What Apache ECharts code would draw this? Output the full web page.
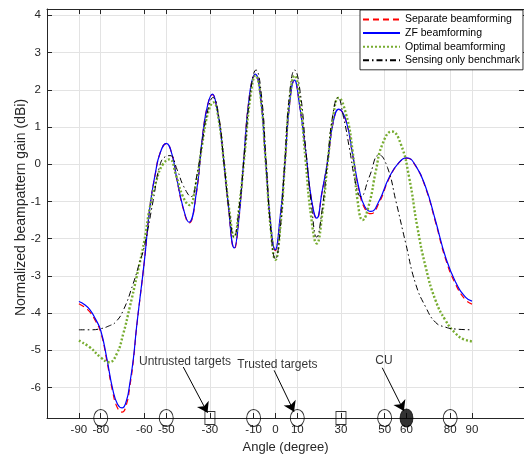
<!DOCTYPE html>
<html>
<head>
<meta charset="utf-8">
<script src="https://cdn.jsdelivr.net/npm/echarts@6/dist/echarts.min.js"></script>
<style>
html,body{margin:0;padding:0;background:#fff;}
#chart{width:524px;height:460px;}
</style>
</head>
<body>
<div id="chart"></div>
<script>
// ---- data ----
const xTicks = [-90, -80, -60, -50, -30, -10, 0, 10, 30, 50, 60, 80, 90];
const yTicks = [-6, -5, -4, -3, -2, -1, 0, 1, 2, 3, 4];

const seriesNames = ['Separate beamforming', 'ZF beamforming', 'Optimal beamforming', 'Sensing only benchmark'];

const sepAngle = [-90,-87.5,-85,-82.5,-80,-77.3,-74.5,-72.3,-70.2,-68.2,-66.7,-65,-63.6,-60,-57.5,-55,-52.8,-50,-47.3,-45.3,-42.3,-39.6,-36.3,-33.2,-31,-28.9,-26.8,-24.8,-21.8,-18.8,-16.8,-14.9,-11.9,-9.2,-6.8,-4.5,-2.2,-0.1,2,4.1,6.5,8.7,11,14,16.5,18.9,21.3,23.9,26.5,29,32.3,35.3,38.4,41,43.7,47.5,52.1,56.6,60.1,64.2,68.8,73.3,77.9,82.5,87.1,90];
const sepGain  = [-3.75,-3.84,-3.97,-4.2,-4.52,-5.25,-6.12,-6.55,-6.66,-6.45,-5.98,-5.25,-4.4,-2.6,-1.17,-0.26,0.3,0.55,0.25,-0.36,-1.18,-1.58,-0.82,0.84,1.6,1.87,1.5,0.72,-0.99,-2.27,-1.52,-0.18,1.84,2.41,1.8,0.1,-1.6,-2.32,-1.52,-0.18,1.64,2.25,1.6,0.27,-0.96,-1.47,-0.77,0.08,1.14,1.47,1.16,0.26,-0.74,-1.2,-1.33,-1.03,-0.38,0.04,0.16,-0.05,-0.65,-1.56,-2.55,-3.23,-3.65,-3.76];

const zfAngle = [-90,-87.5,-85,-82.5,-80,-77.3,-74.5,-72.3,-70.2,-68.2,-66.7,-65,-63.6,-60,-57.5,-55,-52.8,-50,-47.3,-45.3,-42.3,-39.6,-36.3,-33.2,-31,-28.9,-26.8,-24.8,-21.8,-18.8,-16.8,-14.9,-11.9,-9.2,-6.8,-4.5,-2.2,-0.1,2,4.1,6.5,8.7,11,14,16.5,18.9,21.3,23.9,26.5,29,32.3,35.3,38.4,41,43.7,47.5,52.1,56.6,60.1,64.2,68.8,73.3,77.9,82.5,87.1,90];
const zfGain  = [-3.69,-3.77,-3.91,-4.15,-4.47,-5.19,-6.05,-6.45,-6.55,-6.35,-5.9,-5.2,-4.38,-2.59,-1.16,-0.25,0.3,0.56,0.25,-0.35,-1.16,-1.56,-0.8,0.85,1.6,1.88,1.5,0.72,-0.98,-2.25,-1.5,-0.17,1.85,2.42,1.8,0.1,-1.6,-2.3,-1.5,-0.17,1.65,2.26,1.6,0.27,-0.95,-1.45,-0.75,0.09,1.15,1.48,1.17,0.27,-0.7,-1.15,-1.27,-0.98,-0.35,0.05,0.17,-0.04,-0.62,-1.52,-2.5,-3.17,-3.58,-3.68];

const optAngle = [-90,-85,-80,-76.1,-72.7,-69.7,-66.7,-63.6,-60,-57.5,-54.5,-51.5,-48.5,-45.5,-42.5,-39.4,-36.5,-33.5,-31,-28.4,-26,-23.5,-21,-18.9,-16.5,-14,-11.5,-9.1,-6.8,-4.5,-2.2,0,2.2,4.4,6.6,8.8,11.2,13.8,16.3,18.9,21.5,24,26.5,28.9,32.3,35.3,37.6,39.9,42.9,46,49,53.3,57.4,61.2,65,68.8,73.3,77.9,82.5,86,90];
const optGain  = [-4.74,-4.92,-5.19,-5.32,-5.1,-4.56,-3.84,-3.04,-2.05,-1.16,-0.44,0.0,0.13,-0.3,-0.85,-1.1,-0.55,0.55,1.35,1.66,1.2,0.0,-1.3,-1.96,-1.1,0.35,1.8,2.38,1.8,0.1,-1.7,-2.57,-1.7,0.1,1.8,2.38,1.7,0.1,-1.4,-2.13,-1.3,0.1,1.3,1.78,1.35,0.36,-0.98,-1.5,-1.07,-0.17,0.54,0.88,0.54,-0.35,-1.7,-2.77,-3.66,-4.2,-4.55,-4.7,-4.76];

const senAngle = [-90,-85,-80,-76,-73.3,-69.7,-65.2,-62.5,-60,-56,-53,-50.5,-48.3,-45,-42,-38.6,-36,-33.5,-31,-28.6,-26,-23.5,-21,-19,-16.5,-14,-11.4,-8.9,-6.5,-4.3,-2.1,0,2.1,4.3,6.5,8.8,11.3,13.9,16.5,18.9,21.2,23.7,26.2,28.6,31.2,33.8,36.8,39.1,42.9,47.5,51.3,55.1,59.7,64.2,68.8,73.3,77.9,82.5,90];
const senGain  = [-4.45,-4.45,-4.42,-4.34,-4.25,-3.93,-3.22,-2.7,-2.2,-0.98,-0.05,0.2,0.23,-0.15,-0.6,-0.87,-0.3,0.6,1.45,1.79,1.3,0.0,-1.35,-1.95,-1.1,0.4,1.95,2.53,1.9,0.1,-1.8,-2.55,-1.8,0.1,1.9,2.53,1.95,0.4,-1.1,-1.96,-1.3,0.0,1.3,1.79,1.25,0.45,-0.53,-0.87,-0.35,0.25,-0.09,-0.98,-2.14,-3.22,-3.84,-4.25,-4.38,-4.43,-4.45];

const circleAngles = [-80, -50, -10, 10, 50, 80];
const squareAngles = [-30, 30];
const cuAngles = [60];

const noteTexts  = ['Untrusted targets', 'Trusted targets', 'CU'];
const noteX      = [-41.4, 0.9, 49.7];
const noteY      = [-5.31, -5.38, -5.29];
const arrowStart = [[-42.2, -5.45], [-0.6, -5.54], [48.9, -5.47]];
const arrowEnd   = [[-31.1, -6.68], [8.5, -6.65], [58.8, -6.63]];

// ---- chart ----
const X_MIN = -104.6, X_MAX = 113.8, Y_MIN = -6.82, Y_MAX = 4.17;
const FONT = "'Liberation Sans', Arial, Helvetica, sans-serif";
const AX = '#262626';
const zip = (a, b) => a.map((v, i) => [v, b[i]]);

const chart = echarts.init(document.getElementById('chart'), null, {renderer: 'canvas'});

function lineSeries(name, ang, gain, color, type, width) {
  return {
    name: name, type: 'line', data: zip(ang, gain),
    smooth: 0.5, showSymbol: false, symbol: 'none',
    lineStyle: {color: color, type: type, width: width},
    itemStyle: {color: color},
    emphasis: {disabled: true}, silent: true, z: 3
  };
}

const ellipsePath = 'path://M0,10A10,10 0 1,1 20,10A10,10 0 1,1 0,10Z';

const option = {
  animation: false,
  backgroundColor: '#ffffff',
  textStyle: {fontFamily: FONT},
  grid: {left: 47, top: 9, width: 478, height: 409, containLabel: false},
  legend: {
    data: seriesNames,
    orient: 'vertical',
    left: 360, top: 10,
    padding: [4, 3, 4, 2],
    itemGap: 2.6,
    itemWidth: 37, itemHeight: 12,
    itemStyle: {opacity: 0},
    backgroundColor: '#ffffff',
    borderColor: '#000000', borderWidth: 0.8,
    textStyle: {fontFamily: FONT, fontSize: 10.5, color: '#000'},
    selectedMode: false
  },
  xAxis: [{
    type: 'value', min: X_MIN, max: X_MAX, position: 'bottom',
    axisLine: {show: true, onZero: false, lineStyle: {color: AX, width: 1}},
    axisTick: {show: true, inside: true, length: 5, customValues: xTicks, lineStyle: {color: AX}},
    axisLabel: {show: true, customValues: xTicks, color: AX, fontSize: 11.5, margin: 6, fontFamily: FONT},
    splitLine: {show: true, lineStyle: {color: '#e3e3e3', width: 1}},
    name: 'Angle (degree)', nameLocation: 'middle', nameGap: 23,
    nameTextStyle: {color: AX, fontSize: 13, fontFamily: FONT}
  }, {
    type: 'value', min: X_MIN, max: X_MAX, position: 'top',
    axisLine: {show: true, onZero: false, lineStyle: {color: AX, width: 1}},
    axisTick: {show: true, inside: true, length: 5, customValues: xTicks, lineStyle: {color: AX}},
    axisLabel: {show: false},
    splitLine: {show: false}
  }],
  yAxis: [{
    type: 'value', min: Y_MIN, max: Y_MAX, position: 'left',
    axisLine: {show: true, onZero: false, lineStyle: {color: AX, width: 1}},
    axisTick: {show: true, inside: true, length: 5, customValues: yTicks, lineStyle: {color: AX}},
    axisLabel: {show: true, customValues: yTicks, color: AX, fontSize: 11.5, margin: 6, fontFamily: FONT},
    splitLine: {show: true, lineStyle: {color: '#e3e3e3', width: 1}},
    name: 'Normalized beampattern gain (dBi)', nameLocation: 'middle', nameGap: 19,
    nameMoveOverlap: false,
    nameTextStyle: {color: AX, fontSize: 14, fontFamily: FONT, padding: [0, 0, 0, 12]}
  }, {
    type: 'value', min: Y_MIN, max: Y_MAX, position: 'right',
    axisLine: {show: true, onZero: false, lineStyle: {color: AX, width: 1}},
    axisTick: {show: true, inside: true, length: 5, customValues: yTicks, lineStyle: {color: AX}},
    axisLabel: {show: false},
    splitLine: {show: false}
  }],
  series: [
    lineSeries(seriesNames[0], sepAngle, sepGain, '#ff0000', [6, 4], 1.2),
    lineSeries(seriesNames[1], zfAngle, zfGain, '#0000ff', 'solid', 1.2),
    lineSeries(seriesNames[2], optAngle, optGain, '#77ac30', [2, 2], 2.4),
    lineSeries(seriesNames[3], senAngle, senGain, '#000000', [6, 3, 1.5, 3], 1),
    {
      name: 'circles', type: 'scatter', clip: false, silent: true, z: 5,
      data: circleAngles.map(a => [a, Y_MIN]),
      symbol: ellipsePath, symbolSize: [14, 17],
      itemStyle: {color: 'rgba(0,0,0,0)', borderColor: '#000', borderWidth: 1}
    },
    {
      name: 'squares', type: 'scatter', clip: false, silent: true, z: 5,
      data: squareAngles.map(a => [a, Y_MIN]),
      symbol: 'rect', symbolSize: [10, 13],
      itemStyle: {color: 'rgba(0,0,0,0)', borderColor: '#000', borderWidth: 1}
    },
    {
      name: 'cu', type: 'scatter', clip: false, silent: true, z: 5,
      data: cuAngles.map(a => [a, Y_MIN]),
      symbol: ellipsePath, symbolSize: [13, 18],
      itemStyle: {color: '#000', borderColor: '#000', borderWidth: 1}
    },
    {
      name: 'notes', type: 'scatter', clip: false, silent: true, z: 6,
      data: noteTexts.map((t, i) => ({name: t, value: [noteX[i], noteY[i]]})),
      symbolSize: 1,
      itemStyle: {color: 'rgba(0,0,0,0)'},
      label: {show: true, position: 'inside', formatter: '{b}', color: '#000', fontSize: 12, fontFamily: FONT},
      markLine: {
        silent: true, animation: false,
        symbol: ['none', 'arrow'], symbolSize: 10,
        label: {show: false},
        lineStyle: {color: '#000', width: 1, type: 'solid'},
        itemStyle: {color: '#000'},
        emphasis: {disabled: true},
        data: arrowStart.map((s, i) => [{coord: s}, {coord: arrowEnd[i]}])
      }
    }
  ]
};
chart.setOption(option);
</script>
</body>
</html>
